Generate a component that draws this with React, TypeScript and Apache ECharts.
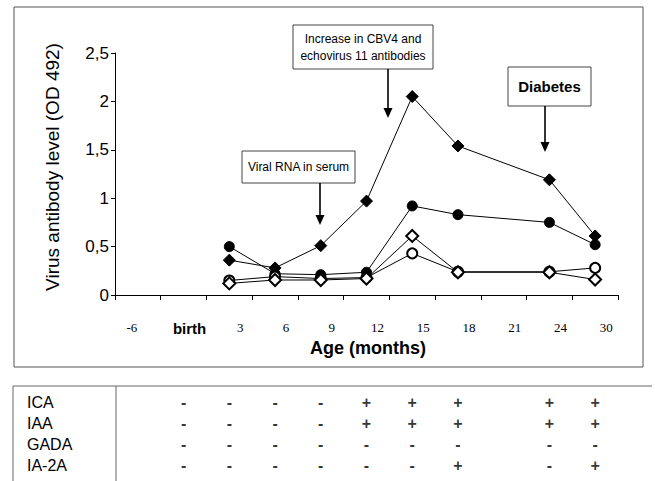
import React, { useEffect, useRef } from "react";
import * as echarts from "echarts";

const categories = ["-6", "birth", "3", "6", "9", "12", "15", "18", "21", "24", "30"];
const yTicks = [0, 0.5, 1, 1.5, 2, 2.5];

// Virus antibody levels (OD 492)
const filledDiamond = [null, null, 0.36, 0.28, 0.51, 0.97, 2.05, 1.54, null, 1.19, 0.61];
const filledCircle = [null, null, 0.5, 0.22, 0.21, 0.235, 0.92, 0.83, null, 0.75, 0.52];
const openCircle = [null, null, 0.15, 0.19, 0.17, 0.18, 0.43, 0.24, null, 0.24, 0.28];
const openDiamond = [null, null, 0.12, 0.155, 0.155, 0.17, 0.61, 0.235, null, 0.235, 0.16];

// Autoantibody table
const tableRows = ["ICA", "IAA", "GADA", "IA-2A"];
const tableCols = ["birth", "3", "6", "9", "12", "15", "18", "24", "30"];
const ICA = ["-", "-", "-", "-", "+", "+", "+", "+", "+"];
const IAA = ["-", "-", "-", "-", "+", "+", "+", "+", "+"];
const GADA = ["-", "-", "-", "-", "-", "-", "-", "-", "-"];
const IA2A = ["-", "-", "-", "-", "-", "-", "+", "-", "+"];
const tableMarks = [ICA, IAA, GADA, IA2A];

const annotations = [
  { lines: ["Increase in CBV4 and", "echovirus 11 antibodies"], bold: false },
  { lines: ["Viral RNA in serum"], bold: false },
  { lines: ["Diabetes"], bold: true },
];

const SANS = "'Liberation Sans', Arial, sans-serif";
const SERIF = "'Liberation Serif', 'Times New Roman', serif";

function arrow(x: number, y1: number, y2: number) {
  return [
    { type: "line", shape: { x1: x, y1, x2: x, y2: y2 - 8 }, style: { stroke: "#000", lineWidth: 1.6 } },
    {
      type: "polygon",
      shape: { points: [[x - 4.5, y2 - 10], [x + 4.5, y2 - 10], [x, y2]] },
      style: { fill: "#000" },
    },
  ];
}

export default function App() {
  const ref = useRef<HTMLDivElement>(null);
  useEffect(() => {
    document.body.style.margin = "0";
    if (!ref.current) return;
    const chart = echarts.init(ref.current, null, { renderer: "svg" });

    const tableData: any[] = [];
    tableMarks.forEach((row, r) => {
      row.forEach((m, c) => {
        tableData.push({ value: [tableCols[c], tableRows[r]], label: { formatter: m } });
      });
    });

    const lineSeries = (data: any[], symbol: string, size: number) => ({
      type: "line",
      xAxisIndex: 0,
      yAxisIndex: 0,
      data,
      connectNulls: true,
      symbol,
      symbolSize: size,
      showAllSymbol: true,
      lineStyle: { color: "#000", width: 1 },
      itemStyle: { color: "#000", borderColor: "#000", borderWidth: 1 },
      emphasis: { disabled: true },
      silent: true,
    });

    const graphic: any[] = [
      {
        type: "rect",
        z: -10,
        shape: { x: 14, y: 7, width: 629, height: 360 },
        style: { fill: "none", stroke: "#555", lineWidth: 1 },
      },
      {
        type: "text",
        x: 52,
        y: 167,
        rotation: Math.PI / 2,
        style: {
          text: "Virus antibody level (OD 492)",
          font: `19px ${SANS}`,
          fill: "#000",
          align: "center",
          verticalAlign: "middle",
        },
      },
      {
        type: "text",
        x: 368,
        y: 348,
        style: {
          text: "Age (months)",
          font: `bold 18px ${SANS}`,
          fill: "#000",
          align: "center",
          verticalAlign: "middle",
        },
      },
      { type: "rect", shape: { x: 293, y: 25, width: 140, height: 44 }, style: { fill: "#fff", stroke: "#444", lineWidth: 1 } },
      {
        type: "text",
        x: 363,
        y: 47,
        style: {
          text: annotations[0].lines.join("\n"),
          font: `12px ${SANS}`,
          lineHeight: 17,
          fill: "#000",
          align: "center",
          verticalAlign: "middle",
        },
      },
      ...arrow(388, 69, 118),
      { type: "rect", shape: { x: 242, y: 151, width: 113, height: 32 }, style: { fill: "#fff", stroke: "#444", lineWidth: 1 } },
      {
        type: "text",
        x: 298.5,
        y: 167,
        style: { text: annotations[1].lines[0], font: `12px ${SANS}`, fill: "#000", align: "center", verticalAlign: "middle" },
      },
      ...arrow(320, 183, 225),
      { type: "rect", shape: { x: 508, y: 67, width: 83, height: 39 }, style: { fill: "#fff", stroke: "#444", lineWidth: 1 } },
      {
        type: "text",
        x: 549.5,
        y: 86.5,
        style: { text: annotations[2].lines[0], font: `bold 15px ${SANS}`, fill: "#000", align: "center", verticalAlign: "middle" },
      },
      ...arrow(545, 106, 152),
      { type: "line", shape: { x1: 13, y1: 386, x2: 652, y2: 386 }, style: { stroke: "#666", lineWidth: 1 } },
      { type: "line", shape: { x1: 13, y1: 386, x2: 13, y2: 481 }, style: { stroke: "#666", lineWidth: 1 } },
      { type: "line", shape: { x1: 116, y1: 386, x2: 116, y2: 481 }, style: { stroke: "#666", lineWidth: 1 } },
    ];

    chart.setOption({
      animation: false,
      backgroundColor: "#fff",
      grid: [
        { left: 115, right: 37, top: 53, bottom: 186 },
        { left: 115, right: 37, top: 392, height: 84 },
      ],
      xAxis: [
        {
          type: "category",
          gridIndex: 0,
          data: categories,
          boundaryGap: true,
          axisLine: { lineStyle: { color: "#000", width: 1 } },
          axisTick: { show: true, length: 5, lineStyle: { color: "#000" } },
          axisLabel: {
            interval: 0,
            margin: 26,
            color: "#000",
            fontFamily: SERIF,
            fontSize: 13,
            formatter: (v: string) =>
              v === "birth" ? "{b|birth}" : v === "-6" ? "{m|" + v + "}" : "{n|" + v + "}",
            rich: {
              b: { fontFamily: SANS, fontWeight: "bold", fontSize: 15, color: "#000", padding: [0, 0, 0, 12] },
              m: { fontFamily: SERIF, fontSize: 13, color: "#000", padding: [0, 12, 0, 0] },
              n: { fontFamily: SERIF, fontSize: 13, color: "#000", padding: [0, 0, 0, 22] },
            },
          },
          splitLine: { show: false },
        },
        {
          type: "category",
          gridIndex: 1,
          data: categories,
          show: false,
        },
      ],
      yAxis: [
        {
          type: "value",
          gridIndex: 0,
          min: yTicks[0],
          max: yTicks[yTicks.length - 1],
          interval: 0.5,
          axisLine: { show: true, lineStyle: { color: "#000", width: 1 } },
          axisTick: { show: true, length: 4, lineStyle: { color: "#000" } },
          axisLabel: {
            color: "#000",
            fontFamily: SANS,
            fontSize: 17,
            margin: 6,
            formatter: (v: number) => String(v).replace(".", ","),
          },
          splitLine: { show: false },
        },
        {
          type: "category",
          gridIndex: 1,
          data: tableRows,
          inverse: true,
          axisLine: { show: false },
          axisTick: { show: false },
          splitLine: { show: false },
          axisLabel: {
            align: "left",
            margin: 88,
            color: "#000",
            fontFamily: SANS,
            fontSize: 16,
          },
        },
      ],
      series: [
        lineSeries(filledDiamond, "diamond", 12),
        lineSeries(filledCircle, "circle", 10),
        lineSeries(openCircle, "emptyCircle", 10),
        lineSeries(openDiamond, "emptyDiamond", 12),
        {
          type: "scatter",
          xAxisIndex: 1,
          yAxisIndex: 1,
          data: tableData,
          symbolSize: 1,
          itemStyle: { color: "transparent" },
          silent: true,
          label: {
            show: true,
            position: "inside",
            color: "#000",
            fontFamily: SANS,
            fontWeight: "bold",
            fontSize: 16,
          },
        },
      ],
      graphic,
    });
    return () => chart.dispose();
  }, []);
  return <div ref={ref} style={{ width: 655, height: 481 }} />;
}
